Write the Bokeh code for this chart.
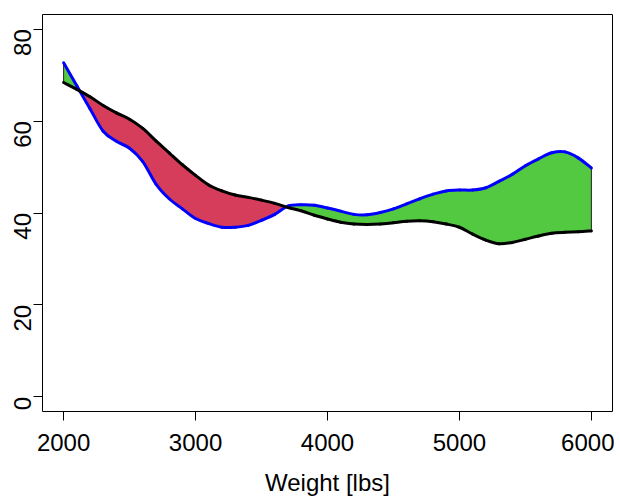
import math
from bokeh.plotting import figure
from bokeh.models import FixedTicker
from bokeh.embed import file_html
from bokeh.resources import INLINE

# ---- data ----
weight = [2000, 2100, 2200, 2300, 2400, 2500, 2600, 2700, 2800, 2900,
          3000, 3100, 3200, 3300, 3400, 3500, 3600, 3700, 3800, 3900,
          4000, 4100, 4200, 4300, 4400, 4500, 4600, 4700, 4800, 4900,
          5000, 5100, 5200, 5300, 5400, 5500, 5600, 5700, 5800, 5900, 6000]
blue_curve = [72.7, 67.7, 62.7, 57.8, 55.6, 54.1, 51.2, 46.3, 43.1, 40.9,
              38.8, 37.7, 36.9, 36.9, 37.3, 38.4, 39.7, 41.5, 41.8, 41.7,
              41.1, 40.4, 39.7, 39.6, 40.1, 40.9, 42.0, 43.1, 44.1, 44.8,
              45.0, 45.0, 45.5, 46.9, 48.4, 50.3, 51.8, 53.1, 53.3, 52.0, 49.8]
black_curve = [68.4, 66.9, 65.3, 63.4, 61.8, 60.4, 58.4, 55.7, 53.1, 50.5,
               48.2, 46.1, 44.8, 43.9, 43.4, 42.8, 42.1, 41.2, 40.5, 39.5,
               38.7, 38.0, 37.6, 37.5, 37.6, 37.9, 38.2, 38.3, 38.1, 37.6,
               36.9, 35.4, 34.1, 33.3, 33.6, 34.3, 35.0, 35.6, 35.8, 35.9, 36.1]
x_ticks = [2000, 3000, 4000, 5000, 6000]
y_ticks = [0, 20, 40, 60, 80]

GREEN = "#52C941"
RED = "#D63D5B"
FONT = "Liberation Sans"
X_START, X_END = 1840, 6160

# insert crossing points so the two fills meet exactly
fx, fb, fk = [], [], []
for i in range(len(weight)):
    fx.append(weight[i]); fb.append(blue_curve[i]); fk.append(black_curve[i])
    if i < len(weight) - 1:
        d0 = blue_curve[i] - black_curve[i]
        d1 = blue_curve[i + 1] - black_curve[i + 1]
        if d0 * d1 < 0:
            t = d0 / (d0 - d1)
            xc = weight[i] + t * (weight[i + 1] - weight[i])
            yc = blue_curve[i] + t * (blue_curve[i + 1] - blue_curve[i])
            fx.append(xc); fb.append(yc); fk.append(yc)
upper = [max(b, k) for b, k in zip(fb, fk)]
lower = [min(b, k) for b, k in zip(fb, fk)]


def smooth_segments(xs, ys):
    """Catmull-Rom control points so the line is drawn as smooth curves."""
    n = len(xs)
    out = dict(x0=[], y0=[], x1=[], y1=[], cx0=[], cy0=[], cx1=[], cy1=[])
    for i in range(n - 1):
        i0 = max(i - 1, 0)
        i3 = min(i + 2, n - 1)
        out["x0"].append(xs[i]); out["y0"].append(ys[i])
        out["x1"].append(xs[i + 1]); out["y1"].append(ys[i + 1])
        out["cx0"].append(xs[i] + (xs[i + 1] - xs[i0]) / 6)
        out["cy0"].append(ys[i] + (ys[i + 1] - ys[i0]) / 6)
        out["cx1"].append(xs[i + 1] - (xs[i3] - xs[i]) / 6)
        out["cy1"].append(ys[i + 1] - (ys[i3] - ys[i]) / 6)
    return out


p = figure(width=614, height=498, x_range=(X_START, X_END), y_range=(-3.2, 83.2),
           output_backend="svg", toolbar_location=None,
           min_border_left=42, min_border_right=2, min_border_top=14,
           min_border_bottom=81, x_axis_label="Weight [lbs]")

p.varea(x=fx, y1=fk, y2=upper, fill_color=GREEN)
p.varea(x=fx, y1=lower, y2=fk, fill_color=RED)
p.segment(x0=[weight[0], weight[-1]], y0=[black_curve[0], black_curve[-1]],
          x1=[weight[0], weight[-1]], y1=[blue_curve[0], blue_curve[-1]],
          line_color="#222222", line_width=1)
p.bezier(line_color="#0000FF", line_width=3, line_cap="round",
         **smooth_segments(weight, blue_curve))
p.bezier(line_color="black", line_width=3, line_cap="round",
         **smooth_segments(weight, black_curve))

p.grid.visible = False
p.outline_line_color = "black"
p.outline_line_width = 1
p.background_fill_color = "white"
p.border_fill_color = "white"

p.xaxis.ticker = FixedTicker(ticks=x_ticks)
p.yaxis.ticker = FixedTicker(ticks=y_ticks)
for ax in (p.xaxis, p.yaxis):
    ax.minor_tick_line_color = None
    ax.major_tick_in = 0
    ax.major_tick_out = 9
    ax.major_tick_line_color = "black"
    ax.axis_line_color = None
    ax.major_label_text_font = FONT
    ax.major_label_text_font_size = "24px"
    ax.major_label_text_color = "black"
p.xaxis.major_label_standoff = 13
p.yaxis.major_label_standoff = 11
p.yaxis.major_label_orientation = math.pi / 2
p.xaxis.axis_label_text_font = FONT
p.xaxis.axis_label_text_font_size = "24px"
p.xaxis.axis_label_text_font_style = "normal"
p.xaxis.axis_label_text_color = "black"
p.xaxis.axis_label_standoff = 15

open("out.html", "w").write(file_html(p, INLINE))
